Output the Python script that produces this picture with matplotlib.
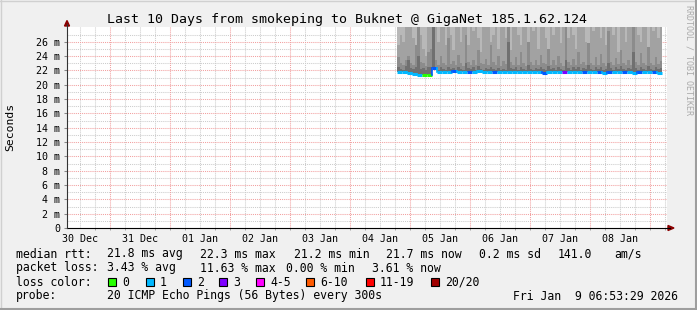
import matplotlib
matplotlib.use("Agg")
import matplotlib.pyplot as plt
import matplotlib.dates as mdates
from matplotlib.patches import Rectangle, Polygon
from matplotlib.lines import Line2D
import pandas as pd

W, H = 697, 310
MONO = "DejaVu Sans Mono"

# graph covers the last 10 days
end_time = pd.Timestamp("2026-01-09 06:53:29")
start_time = end_time - pd.Timedelta(days=10)
first_sample = pd.Timestamp("2026-01-04 18:53:29")

# median rtt (ms) per 2h sample
median_rtt = [21.8, 21.8, 21.7, 21.55, 21.35, 21.3, 21.3, 22.3, 21.8, 21.8,
              21.8, 21.9, 21.8, 21.8, 21.8, 21.8, 21.9, 21.8, 21.8, 21.8,
              21.8, 21.8, 21.8, 21.8, 21.8, 21.8, 21.8, 21.8, 21.8, 21.7,
              21.8, 21.8, 21.8, 21.8, 21.8, 21.8, 21.8, 21.8, 21.8, 21.8,
              21.8, 21.7, 21.8, 21.8, 21.8, 21.8, 21.8, 21.7, 21.8, 21.8,
              21.8, 21.8, 21.7]
# loss class per 2h sample (index into loss_labels)
loss_idx = [1, 1, 1, 1, 1, 0, 0, 2, 1, 1,
            1, 2, 1, 1, 2, 1, 1, 1, 1, 2,
            1, 1, 1, 1, 1, 1, 1, 1, 1, 2,
            1, 1, 1, 3, 1, 1, 1, 2, 1, 1,
            2, 1, 2, 1, 1, 2, 1, 1, 2, 1,
            1, 2, 1]
# max rtt per 2h sample (all above the visible range)
smoke_max = [34, 38, 41, 36, 45, 39, 33, 48, 37, 42,
             35, 44, 38, 33, 46, 36, 40, 34, 43, 37,
             33, 45, 39, 35, 47, 36, 42, 33, 49, 38,
             35, 43, 37, 41, 34, 39, 44, 37, 33, 46,
             38, 35, 42, 48, 36, 40, 34, 45, 37, 41,
             35, 39, 43]
# inner smoke layers per 1h sample (ms)
smoke_mid = [25.5, 27.0, 26.0, 30.0, 30.0, 28.0, 26.5, 24.5, 29.0, 27.0,
             25.0, 24.0, 30.0, 30.0, 27.5, 30.0, 26.0, 30.0, 28.5, 25.5,
             30.0, 27.0, 24.8, 30.0, 29.0, 26.0, 30.0, 28.0, 25.5, 30.0,
             27.5, 30.0, 26.5, 24.5, 30.0, 28.5, 30.0, 26.0, 27.0, 30.0,
             25.0, 30.0, 28.0, 26.5, 30.0, 24.8, 29.5, 30.0, 27.0, 25.5,
             30.0, 28.5, 26.0, 30.0, 27.5, 30.0, 25.0, 28.0, 30.0, 26.5,
             24.5, 30.0, 27.0, 29.0, 30.0, 25.8, 28.0, 30.0, 26.5, 30.0,
             27.0, 25.0, 30.0, 28.5, 30.0, 26.0, 24.8, 30.0, 27.5, 29.0,
             30.0, 26.5, 30.0, 25.5, 28.0, 30.0, 27.0, 30.0, 24.5, 29.5,
             30.0, 26.0, 28.5, 30.0, 25.5, 30.0, 27.0, 26.0, 30.0, 28.0,
             25.0, 30.0, 27.5, 30.0, 26.5, 29.0]
smoke_dark = [23.8, 23.0, 22.7, 23.5, 24.0, 23.0, 22.8, 25.5, 30.0, 23.2,
              23.0, 22.6, 24.5, 25.0, 30.0, 23.4, 22.7, 24.0, 23.0, 22.8,
              26.5, 22.9, 23.3, 22.7, 24.2, 23.0, 22.6, 27.0, 23.1, 22.8,
              23.5, 22.7, 24.8, 23.0, 22.9, 23.6, 22.7, 25.5, 23.2, 22.8,
              24.0, 22.6, 23.3, 22.9, 30.0, 23.1, 22.7, 23.8, 22.8, 24.5,
              23.0, 22.6, 26.0, 23.2, 22.8, 23.5, 22.7, 24.2, 23.0, 22.9,
              25.0, 22.7, 23.4, 22.8, 24.0, 23.0, 22.6, 28.0, 23.1, 22.8,
              23.6, 22.7, 24.6, 22.9, 23.2, 22.7, 25.8, 23.0, 22.8, 23.9,
              22.7, 24.3, 23.0, 22.6, 27.5, 23.1, 22.8, 23.7, 22.9, 24.8,
              23.0, 22.7, 23.5, 22.8, 30.0, 23.2, 22.7, 24.4, 23.0, 22.8,
              25.2, 23.0, 22.7, 23.8, 22.9, 23.3]
smoke_core = [22.4, 22.2, 22.1, 22.6, 23.5, 22.3, 22.2, 22.5, 24.0, 22.2,
              22.3, 22.1, 22.4, 22.5, 30.0, 22.3, 22.1, 22.4, 22.2, 22.1,
              22.5, 22.2, 22.3, 22.1, 22.4, 22.2, 22.1, 23.0, 22.3, 22.2,
              22.4, 22.1, 22.6, 22.2, 22.1, 22.3, 22.2, 22.5, 22.2, 22.1,
              22.3, 22.1, 22.2, 22.1, 26.0, 22.3, 22.2, 22.4, 22.1, 22.5,
              22.2, 22.1, 22.8, 22.2, 22.1, 22.3, 22.2, 22.4, 22.2, 22.1,
              22.6, 22.2, 22.3, 22.1, 22.4, 22.2, 22.1, 23.5, 22.3, 22.1,
              22.4, 22.2, 22.5, 22.1, 22.3, 22.2, 22.7, 22.2, 22.1, 22.4,
              22.2, 22.5, 22.1, 22.2, 23.0, 22.3, 22.1, 22.4, 22.2, 22.6,
              22.2, 22.1, 22.3, 22.2, 24.5, 22.3, 22.1, 22.5, 22.2, 22.1,
              22.6, 22.2, 22.1, 22.4, 22.2, 22.3]

loss_labels = ["0", "1", "2", "3", "4-5", "6-10", "11-19", "20/20"]
loss_colors = ["#26ff00", "#00b8ff", "#0059ff", "#7e00ff",
               "#ff00ff", "#ff5a00", "#ff0000", "#a10000"]

y_ticks = [0, 2, 4, 6, 8, 10, 12, 14, 16, 18, 20, 22, 24, 26]

stats_rtt = ["21.8 ms avg", "22.3 ms max", "21.2 ms min", "21.7 ms now",
             "0.2 ms sd", "141.0", "am/s"]
stats_loss = ["3.43 % avg", "11.63 % max", "0.00 % min", "3.61 % now"]


def fx(x):
    return x / W


def fy(y):
    return 1 - y / H


fig = plt.figure(figsize=(W / 100, H / 100), dpi=100, facecolor="#f0f0f0")
ax = fig.add_axes([fx(67), fy(228), 600 / W, 201 / H], facecolor="white")
ymax = 28.05
ax.set_xlim(mdates.date2num(start_time), mdates.date2num(end_time))
ax.set_ylim(0, ymax)
for s in ax.spines.values():
    s.set_visible(False)

# grid
dots = (0, (1, 1))
hours6 = pd.date_range(start_time.ceil("6h"), end_time, freq="6h")
minor_x = [mdates.date2num(t) for t in hours6 if t.hour != 0]
major_x = [mdates.date2num(t) for t in hours6 if t.hour == 0]
ax.vlines(minor_x, 0, ymax, colors="#cccccc", linestyles=dots, lw=0.75, zorder=0.5)
ax.vlines(major_x, 0, ymax, colors="#f2a0a0", linestyles=dots, lw=0.75, zorder=0.6)
ax.hlines([v + 1 for v in y_ticks], ax.get_xlim()[0], ax.get_xlim()[1],
          colors="#cccccc", linestyles=dots, lw=0.75, zorder=0.5)
ax.hlines(y_ticks[1:], ax.get_xlim()[0], ax.get_xlim()[1],
          colors="#f2a0a0", linestyles=dots, lw=0.75, zorder=0.6)

# smoke
edges2 = [mdates.date2num(t) for t in
          pd.date_range(first_sample, periods=len(median_rtt) + 1, freq="2h")]
edges1 = [mdates.date2num(t) for t in
          pd.date_range(first_sample, periods=len(smoke_mid) + 1, freq="1h")]
base1 = [median_rtt[i // 2] for i in range(len(smoke_mid))]
ax.stairs(smoke_max, edges2, baseline=median_rtt, fill=True, color="#b8b8b8", lw=0, zorder=2)
ax.stairs(smoke_mid, edges1, baseline=base1, fill=True, color="#a2a2a2", lw=0, zorder=2.1)
ax.stairs(smoke_dark, edges1, baseline=base1, fill=True, color="#8c8c8c", lw=0, zorder=2.2)
ax.stairs(smoke_core, edges1, baseline=base1, fill=True, color="#707070", lw=0, zorder=2.3)

# median line coloured by loss
for i, m in enumerate(median_rtt):
    c = loss_colors[loss_idx[i]]
    ax.plot([edges2[i], edges2[i + 1]], [m, m], color=c, lw=2.2,
            solid_capstyle="butt", zorder=3)
    if i > 0 and median_rtt[i - 1] != m:
        ax.plot([edges2[i], edges2[i]], [median_rtt[i - 1], m], color=c, lw=1.2, zorder=3)

# ticks
ax.xaxis.set_major_locator(mdates.HourLocator(byhour=[12]))
ax.xaxis.set_major_formatter(mdates.DateFormatter("%d %b"))
ax.set_xticks(minor_x + major_x, minor=True)
ax.tick_params(axis="x", which="major", length=0, pad=4.5, labelsize=7.2)
ax.tick_params(axis="x", which="minor", length=1.5, color="#999999", direction="out")
ax.set_yticks(y_ticks)
ax.set_yticklabels(["0" if v == 0 else f"{v} m" for v in y_ticks])
ax.tick_params(axis="y", which="major", length=2.5, width=0.75, color="#888888",
               pad=2.5, labelsize=7.2)
for lab in ax.get_xticklabels() + ax.get_yticklabels():
    lab.set_family(MONO)

# axes with arrows
fig.add_artist(Line2D([fx(67), fx(670)], [fy(228), fy(228)], color="black", lw=0.8))
fig.add_artist(Line2D([fx(67), fx(67)], [fy(228), fy(24)], color="#333333", lw=0.8))
fig.add_artist(Polygon([(fx(668), fy(225.5)), (fx(674), fy(228)), (fx(668), fy(230.5))],
                       closed=True, color="#8b0000", transform=fig.transFigure))
fig.add_artist(Polygon([(fx(64.5), fy(26)), (fx(67), fy(20.5)), (fx(69.5), fy(26))],
                       closed=True, color="#8b0000", transform=fig.transFigure))

# titles
fig.text(fx(347), fy(19), "Last 10 Days from smokeping to Buknet @ GigaNet 185.1.62.124",
         family=MONO, fontsize=9.5, ha="center", va="center")
fig.text(fx(10), fy(127), "Seconds", family=MONO, fontsize=8.2,
         rotation=90, ha="center", va="center")
fig.text(fx(689), fy(5), "RRDTOOL / TOBI OETIKER", family=MONO, fontsize=6,
         rotation=270, ha="center", va="top", color="#aaaaaa")

# legend block
fs = 8.3
fig.text(fx(16), fy(254), "median rtt:", family=MONO, fontsize=fs, va="center")
for x, s in zip([107, 200, 294, 386, 479, 558, 614], stats_rtt):
    fig.text(fx(x), fy(254), s, family=MONO, fontsize=fs, va="center")
fig.text(fx(16), fy(268), "packet loss:", family=MONO, fontsize=fs, va="center")
for x, s in zip([107, 200, 286, 372], stats_loss):
    fig.text(fx(x), fy(268), s, family=MONO, fontsize=fs, va="center")
fig.text(fx(16), fy(282), "loss color:", family=MONO, fontsize=fs, va="center")
for x, lab, c in zip([108, 146, 183, 219, 256, 306, 366, 431], loss_labels, loss_colors):
    fig.add_artist(Rectangle((fx(x), fy(286)), 8 / W, 8 / H, transform=fig.transFigure,
                             facecolor=c, edgecolor="black", lw=0.8))
    fig.text(fx(x + 14), fy(282), lab, family=MONO, fontsize=fs, va="center")
fig.text(fx(16), fy(296), "probe:", family=MONO, fontsize=fs, va="center")
fig.text(fx(107), fy(296), "20 ICMP Echo Pings (56 Bytes) every 300s",
         family=MONO, fontsize=fs, va="center")
fig.text(fx(513), fy(296), "Fri Jan  9 06:53:29 2026", family=MONO, fontsize=fs, va="center")

# frame shading
fig.add_artist(Line2D([0, 1], [fy(0.5), fy(0.5)], color="#d0d0d0", lw=1))
fig.add_artist(Line2D([fx(0.5), fx(0.5)], [0, 1], color="#d0d0d0", lw=1))
fig.add_artist(Line2D([0, 1], [fy(309), fy(309)], color="#9e9e9e", lw=1.5))
fig.add_artist(Line2D([fx(696), fx(696)], [0, 1], color="#9e9e9e", lw=1.5))

fig.savefig("out.png", dpi=100, facecolor=fig.get_facecolor())
